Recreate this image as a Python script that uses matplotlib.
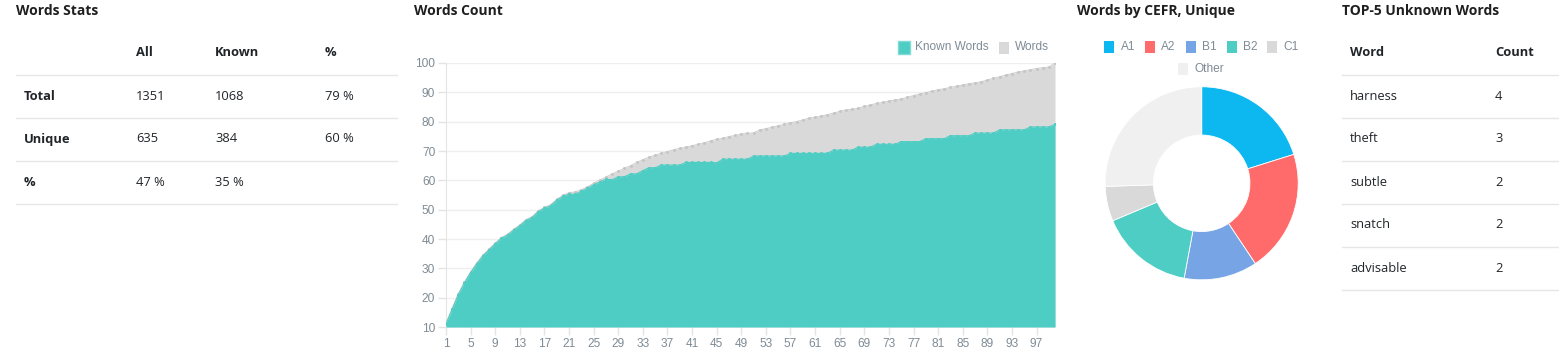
import matplotlib
matplotlib.use("Agg")
import matplotlib.pyplot as plt
from matplotlib.patches import Rectangle

# ---- data ----
stats_cols = ["All", "Known", "%"]
stats_rows = ["Total", "Unique", "%"]
stats_vals = [["1351", "1068", "79 %"],
              ["635", "384", "60 %"],
              ["47 %", "35 %", ""]]

steps = list(range(1, 101))
known_words = [11, 16, 21, 25, 28.5, 31.5, 34.2, 36.3, 38.3, 40.2,
               41.3, 43, 44.5, 46.3, 47.3, 49.3, 50.5, 51.3, 53.2, 54.5,
               55.3, 55.2, 56.3, 57.3, 58.5, 59.4, 60.4, 60.2, 61.2, 61.2,
               62.2, 62.2, 63.3, 64.3, 64.3, 65.2, 65.2, 65.2, 65.2, 66.1,
               66.1, 66.1, 66.1, 66.1, 66.0, 67.2, 67.2, 67.2, 67.2, 67.2,
               68.3, 68.3, 68.3, 68.3, 68.3, 68.3, 69.2, 69.2, 69.2, 69.2,
               69.2, 69.2, 69.2, 70.3, 70.3, 70.3, 70.3, 71.3, 71.3, 71.3,
               72.3, 72.3, 72.3, 72.3, 73.2, 73.2, 73.2, 73.2, 74.2, 74.2,
               74.2, 74.2, 75.2, 75.2, 75.2, 75.2, 76.1, 76.1, 76.1, 76.1,
               77.2, 77.2, 77.2, 77.2, 77.2, 78.2, 78.2, 78.2, 78.2, 79.1]
words = [11.3, 16.3, 21.3, 25.3, 28.8, 31.8, 34.5, 36.6, 38.6, 40.5,
         41.6, 43.3, 44.8, 46.6, 47.6, 49.6, 50.8, 51.7, 53.5, 54.9,
         55.8, 56.0, 56.8, 57.8, 59.0, 60.1, 61.1, 62.2, 63.1, 64.1,
         65.0, 66.1, 67.0, 67.9, 68.6, 69.2, 69.8, 70.4, 70.9, 71.3,
         71.8, 72.3, 72.8, 73.4, 74.0, 74.3, 74.9, 75.3, 75.8, 76.0,
         76.2, 77.2, 77.6, 78.1, 78.6, 79.1, 79.6, 80.0, 80.6, 81.2,
         81.5, 81.9, 82.4, 82.9, 83.5, 84.0, 84.2, 84.6, 85.2, 85.7,
         86.2, 86.6, 87.0, 87.4, 87.7, 88.3, 88.9, 89.4, 89.9, 90.4,
         90.9, 91.2, 91.7, 92.1, 92.5, 92.9, 93.2, 93.6, 94.2, 94.8,
         95.3, 95.9, 96.4, 96.9, 97.3, 97.7, 98.1, 98.4, 98.6, 100]

cefr_labels = ["A1", "A2", "B1", "B2", "C1", "Other"]
cefr_counts = [128, 130, 78, 100, 37, 162]
cefr_colors = ["#0db7f0", "#ff6b6b", "#76a4e4", "#4ecdc4", "#d9d9d9", "#f0f0f0"]

top_words = ["harness", "theft", "subtle", "snatch", "advisable"]
top_counts = [4, 3, 2, 2, 2]

TEAL = "#4ecdc4"
GRAY = "#d9d9d9"
TXT = "#212529"
AXT = "#7f8b95"
W, H = 1559, 360

fig = plt.figure(figsize=(W / 100, H / 100), dpi=100)

# overlay axes in pixel coords for titles / tables / legends
ov = fig.add_axes([0, 0, 1, 1])
ov.set_xlim(0, W)
ov.set_ylim(H, 0)
ov.axis("off")

title_kw = dict(fontsize=10, fontweight="bold", color="#1f1f1f",
                family="Open Sans", va="center", ha="left")
ov.text(16, 11, "Words Stats", **title_kw)
ov.text(414, 11, "Words Count", **title_kw)
ov.text(1077, 11, "Words by CEFR, Unique", **title_kw)
ov.text(1342, 11, "TOP-5 Unknown Words", **title_kw)

cell_kw = dict(fontsize=9.3, color=TXT, family="Open Sans", va="center", ha="left")
row_h = 43
# ---- words stats table ----
col_x = [136, 215, 325]
for cx, c in zip(col_x, stats_cols):
    ov.text(cx, 52, c, fontweight="bold", **cell_kw)
for r, (name, vals) in enumerate(zip(stats_rows, stats_vals)):
    y = 96 + r * row_h
    ov.text(24, y, name, fontweight="bold", **cell_kw)
    for cx, v in zip(col_x, vals):
        ov.text(cx, y, v, **cell_kw)
for r in range(len(stats_rows) + 1):
    y = 74.5 + r * row_h
    ov.plot([16, 397], [y, y], color="#e6e6e6", lw=1)

# ---- top-5 table ----
ov.text(1350, 52, "Word", fontweight="bold", **cell_kw)
ov.text(1495, 52, "Count", fontweight="bold", **cell_kw)
for r, (wd, cnt) in enumerate(zip(top_words, top_counts)):
    y = 96 + r * row_h
    ov.text(1350, y, wd, **cell_kw)
    ov.text(1495, y, str(cnt), **cell_kw)
for r in range(len(top_words) + 1):
    y = 74.5 + r * row_h
    ov.plot([1342, 1559], [y, y], color="#e6e6e6", lw=1)

# ---- words count area chart ----
x0, x1, y0, y1 = 446, 1055, 63, 327
ax = fig.add_axes([x0 / W, (H - y1) / H, (x1 - x0) / W, (y1 - y0) / H])
ax.set_facecolor("none")
ax.fill_between(steps, words, 10, color=GRAY, lw=0, zorder=2)
ax.plot(steps, words, color="#d2d2d2", lw=0.8, marker="o", ms=1.2,
        mfc="#c6c6c6", mec="#c6c6c6", zorder=3)
ax.fill_between(steps, known_words, 10, color=TEAL, lw=0, zorder=4)
ax.plot(steps, known_words, color=TEAL, lw=0.8, marker="o", ms=1.2, zorder=5)
ax.set_xlim(1, 100)
ax.set_ylim(10, 100)
ax.set_yticks(range(10, 101, 10))
ax.set_xticks(range(1, 100, 4))
ax.grid(axis="y", color="#efefef", lw=1, zorder=0)
ax.tick_params(colors="#e4e4e4", labelcolor=AXT, length=5.8, width=1,
               labelsize=8.6, pad=2)
for lab in ax.get_xticklabels() + ax.get_yticklabels():
    lab.set_family("Liberation Sans")
for side in ["top", "right", "bottom"]:
    ax.spines[side].set_visible(False)
ax.spines["left"].set_color("#e4e4e4")

# legend of area chart
ov.add_patch(Rectangle((898, 41), 12, 13, facecolor=TEAL, edgecolor="#7fdcd5", lw=1))
ov.text(915.5, 47, "Known Words", fontsize=8.6, color=AXT, family="Liberation Sans",
        va="center", ha="left")
ov.add_patch(Rectangle((999, 42), 10, 12, facecolor=GRAY, lw=0))
ov.text(1014.5, 47, "Words", fontsize=8.6, color=AXT, family="Liberation Sans",
        va="center", ha="left")

# ---- CEFR donut ----
cx, cy, rad = 1201.7, 183.3, 97
pax = fig.add_axes([(cx - rad) / W, (H - cy - rad) / H, 2 * rad / W, 2 * rad / H])
pax.pie(cefr_counts, colors=cefr_colors, startangle=90, counterclock=False,
        radius=1, wedgeprops=dict(width=0.5, edgecolor="white", linewidth=0.6))
pax.set_xlim(-1.005, 1.005)
pax.set_ylim(-1.005, 1.005)

leg_pos = [(1104.5, 47), (1145, 47), (1186, 47), (1227, 47), (1267.5, 47), (1178.5, 69)]
for (lx, ly), lab, col in zip(leg_pos, cefr_labels, cefr_colors):
    ov.add_patch(Rectangle((lx, ly - 6), 10, 12, facecolor=col, lw=0))
    ov.text(lx + 16, ly, lab, fontsize=8.6, color=AXT, family="Liberation Sans",
            va="center", ha="left")

fig.savefig("out.png", dpi=100, facecolor="white")
